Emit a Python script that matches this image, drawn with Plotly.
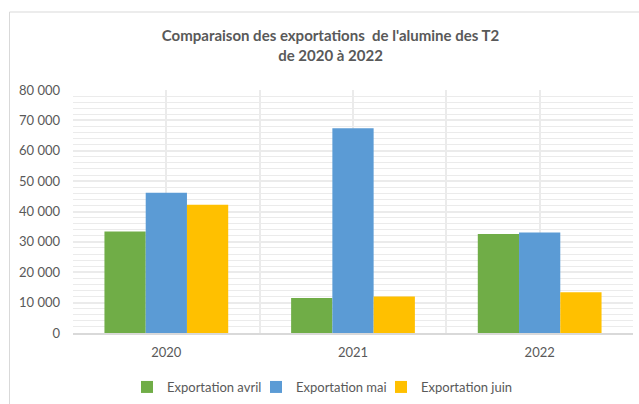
import plotly.graph_objects as go

years = ["2020", "2021", "2022"]
series_names = ["Exportation avril", "Exportation mai", "Exportation juin"]
avril = [33400, 11500, 32600]
mai = [46200, 67400, 33100]
juin = [42200, 12000, 13400]
colors = ["#70AD47", "#5B9BD5", "#FFC000"]
y_ticks = [0, 10000, 20000, 30000, 40000, 50000, 60000, 70000, 80000]

FONT = "Lato"
GRAY = "#595959"
GRID = "#ebebeb"

legend_names = ["legend", "legend2", "legend3"]
legend_text_x = [167, 296, 421]

x_pos = list(range(len(years)))
fig = go.Figure()
for name, vals, col, lg in zip(series_names, [avril, mai, juin], colors, legend_names):
    fig.add_trace(go.Bar(x=x_pos, y=vals, name=name, legend=lg,
                         marker=dict(color=col, line=dict(width=0))))

legend_common = dict(orientation="h", xanchor="left", xref="container",
                     y=1 - 387 / 404, yanchor="middle", yref="container",
                     font=dict(family=FONT, size=13, color=GRAY), itemwidth=30,
                     bgcolor="rgba(0,0,0,0)")
legends = {lg: dict(legend_common, x=(tx - 40) / 639) for lg, tx in zip(legend_names, legend_text_x)}

fig.update_layout(
    width=639, height=404,
    margin=dict(l=73, r=6, t=90, b=71),
    paper_bgcolor="white", plot_bgcolor="white",
    barmode="group", bargap=0.337, bargroupgap=0,
    separators=", ",
    font=dict(family=FONT, size=13, color=GRAY),
    title=dict(text="Comparaison des exportations  de l'alumine des T2<br>de 2020 à 2022",
               x=330.5 / 639, xanchor="center", xref="container",
               y=1 - 41 / 404, yanchor="middle", yref="container",
               font=dict(family=FONT, size=15, color=GRAY, weight="bold")),
    showlegend=True,
    xaxis=dict(range=[-0.5, 2.5], tickvals=x_pos, ticktext=years, showgrid=True,
               gridcolor=GRID, gridwidth=1.5, showline=True, linecolor="#d9d9d9",
               linewidth=1.5, ticks="", zeroline=False, fixedrange=True,
               minor=dict(dtick=0.5, tick0=0.5, showgrid=True, gridcolor=GRID, gridwidth=1.5),
               tickfont=dict(size=13, color=GRAY), ticklabelstandoff=7),
    yaxis=dict(range=[0, 80000], tickvals=y_ticks, tickformat=",d", showgrid=True,
               gridcolor=GRID, gridwidth=1.5, zeroline=False, ticks="", fixedrange=True,
               minor=dict(dtick=2000, showgrid=True, gridcolor=GRID, gridwidth=1),
               tickfont=dict(size=13, color=GRAY), ticklabelstandoff=12),
    shapes=[dict(type="rect", xref="paper", yref="paper",
                 x0=(9.5 - 73) / 560, x1=1.2, y0=-0.5, y1=(333 - 12) / 243,
                 line=dict(color="#d9d9d9", width=1), fillcolor="rgba(0,0,0,0)", layer="below")],
    **legends,
)

fig.write_html("out.html", config={"displayModeBar": False},
               post_script="document.body.style.margin='0';")
